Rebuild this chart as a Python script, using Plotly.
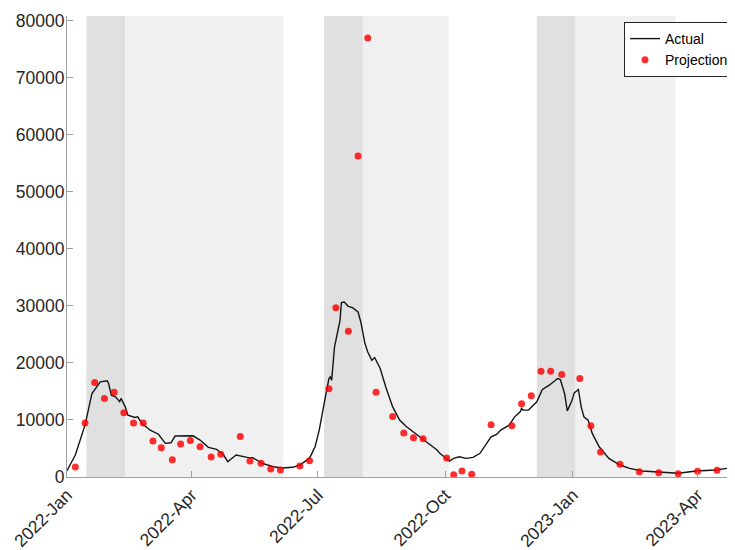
import plotly.graph_objects as go

# ---- Actual series ----
actual_dates = [
    "2022-01-01", "2022-01-07", "2022-01-14", "2022-01-19", "2022-01-25", "2022-01-30",
    "2022-01-31", "2022-02-02", "2022-02-05", "2022-02-08", "2022-02-09", "2022-02-12",
    "2022-02-14", "2022-02-19", "2022-02-21", "2022-02-24", "2022-03-02", "2022-03-08",
    "2022-03-13", "2022-03-17", "2022-03-20", "2022-03-25", "2022-04-02", "2022-04-07",
    "2022-04-13", "2022-04-19", "2022-04-24", "2022-04-27", "2022-05-03", "2022-05-11",
    "2022-05-15", "2022-05-22", "2022-05-30", "2022-06-05", "2022-06-13", "2022-06-18",
    "2022-06-25", "2022-06-29", "2022-07-02", "2022-07-06", "2022-07-09", "2022-07-10",
    "2022-07-11", "2022-07-13", "2022-07-16", "2022-07-17", "2022-07-18", "2022-07-20",
    "2022-07-23", "2022-07-26", "2022-07-30", "2022-08-01", "2022-08-04", "2022-08-06",
    "2022-08-09", "2022-08-11", "2022-08-15", "2022-08-19", "2022-08-24", "2022-08-29",
    "2022-09-03", "2022-09-09", "2022-09-15", "2022-09-20", "2022-09-25", "2022-09-27",
    "2022-10-03", "2022-10-04", "2022-10-07", "2022-10-11", "2022-10-16", "2022-10-21",
    "2022-10-26", "2022-10-29", "2022-11-03", "2022-11-07", "2022-11-10", "2022-11-16",
    "2022-11-20", "2022-11-24", "2022-11-25", "2022-11-26", "2022-11-30", "2022-12-06",
    "2022-12-10", "2022-12-15", "2022-12-21", "2022-12-23", "2022-12-26", "2022-12-28",
    "2022-12-31", "2023-01-02", "2023-01-03", "2023-01-05", "2023-01-07", "2023-01-09",
    "2023-01-12", "2023-01-15", "2023-01-20", "2023-01-27", "2023-02-04", "2023-02-11",
    "2023-02-20", "2023-03-07", "2023-03-18", "2023-03-31", "2023-04-14", "2023-04-28",
]
actual_values = [
    1100, 3850, 9100, 14650, 16700, 16860,
    16400, 14350, 14050, 13200, 13800, 12300,
    10850, 10450, 10550, 9400, 8200, 7500,
    5900, 6000, 7180, 7180, 7230, 6480,
    5200, 4850, 3850, 2680, 3850, 3450,
    3380, 2400, 1800, 1575, 1700, 2100,
    3300, 5300, 8230, 13480, 17270, 17560,
    16980, 22800, 26600, 27480, 30580, 30690,
    29930, 29700, 28940, 27190, 23400, 21930,
    20480, 20950, 19030, 15800, 12300, 9980,
    8800, 7650, 6480, 5600, 4730, 4150,
    2980, 2800, 3270, 3550, 3270, 3450,
    4150, 5300, 7050, 7470, 8230, 9100,
    10550, 11430, 12020, 11730, 11730, 13180,
    15350, 16100, 17280, 17100, 14650, 11600,
    13180, 14760, 14930, 15350, 12300, 10550,
    9980, 7650, 5300, 3270, 2100, 1520,
    1050, 820, 650, 1050, 1230, 1700,
]

# ---- Projection series ----
proj_dates = [
    "2022-01-07", "2022-01-14", "2022-01-21", "2022-01-28", "2022-02-04", "2022-02-11",
    "2022-02-18", "2022-02-25", "2022-03-04", "2022-03-10", "2022-03-18", "2022-03-24",
    "2022-03-31", "2022-04-07", "2022-04-15", "2022-04-22", "2022-05-06", "2022-05-13",
    "2022-05-21", "2022-05-28", "2022-06-04", "2022-06-18", "2022-06-25",
    "2022-07-09", "2022-07-14", "2022-07-23", "2022-07-30", "2022-08-06", "2022-08-12",
    "2022-08-24", "2022-09-01", "2022-09-08", "2022-09-15", "2022-10-02", "2022-10-07",
    "2022-10-13", "2022-10-20",
    "2022-11-03", "2022-11-18", "2022-11-25", "2022-12-02", "2022-12-09", "2022-12-16",
    "2022-12-24", "2023-01-06", "2023-01-14", "2023-01-21", "2023-02-04", "2023-02-18",
    "2023-03-04", "2023-03-18", "2023-04-01", "2023-04-15",
]
proj_values = [
    1750, 9450, 16580, 13780, 14880, 11260,
    9450, 9450, 6300, 5130, 3030, 5780,
    6420, 5300, 3500, 3970, 7120, 2800,
    2400, 1400, 1230, 1930, 2850,
    15460, 29700, 25560, 56300, 77000, 14880,
    10620, 7700, 6880, 6700, 3330, 400,
    1050, 470,
    9160, 8980, 12830, 14230, 18560, 18560,
    17980, 17270, 8980, 4380, 2220, 930,
    750, 580, 1000, 1170,
]

# ---- Shaded periods: (start, end of dark part, end of light part) ----
shade_starts = ["2022-01-15", "2022-07-05 12:00", "2022-12-06"]
shade_mids = ["2022-02-12", "2022-08-02 12:00", "2023-01-03"]
shade_ends = ["2022-06-06", "2022-10-03 12:00", "2023-03-16"]

x_range = ["2022-01-01", "2023-04-28"]
y_range = [0, 80850]
y_ticks = [0, 10000, 20000, 30000, 40000, 50000, 60000, 70000, 80000]

FONT = "Liberation Sans, Arial, Helvetica, sans-serif"
DARK = "#e0e0e0"
LIGHT = "#f0f0f0"

fig = go.Figure()

fig.add_trace(go.Scatter(
    x=actual_dates, y=actual_values, mode="lines", name="Actual",
    line=dict(color="#141414", width=1.4),
))
fig.add_trace(go.Scatter(
    x=proj_dates, y=proj_values, mode="markers", name="Projection",
    marker=dict(color="#ff0000", size=7, opacity=0.82, line=dict(width=0)),
))

shapes = []
for s, m, e in zip(shade_starts, shade_mids, shade_ends):
    shapes.append(dict(type="rect", xref="x", yref="paper", x0=s, x1=m, y0=0, y1=1,
                       fillcolor=DARK, line=dict(width=0), layer="below"))
    shapes.append(dict(type="rect", xref="x", yref="paper", x0=m, x1=e, y0=0, y1=1,
                       fillcolor=LIGHT, line=dict(width=0), layer="below"))

# page body has an 8px margin, so the figure is sized to fit the window
fig.update_layout(
    width=727, height=542,
    margin=dict(l=59, r=0, t=8, b=73, autoexpand=False),
    paper_bgcolor="white", plot_bgcolor="white",
    shapes=shapes,
    showlegend=True,
    legend=dict(
        x=0.9985, xanchor="right", y=0.987, yanchor="top",
        bgcolor="white", bordercolor="#262626", borderwidth=1,
        font=dict(family=FONT, size=14, color="#000000"),
        tracegroupgap=0, itemwidth=30,
    ),
    font=dict(family=FONT, color="#262626"),
)

fig.update_xaxes(
    type="date", range=x_range, automargin=False,
    tick0="2022-01-01", dtick="M3", tickformat="%Y-%b",
    tickangle=-45, tickfont=dict(family=FONT, size=17.5, color="#262626"),
    ticks="inside", ticklen=6, tickcolor="#a0a0a0", tickwidth=1,
    showline=True, linecolor="#a0a0a0", linewidth=1,
    showgrid=False, zeroline=False, mirror=False,
)
fig.update_yaxes(
    range=y_range, tickvals=y_ticks, tickformat="d", automargin=False,
    tickfont=dict(family=FONT, size=17.5, color="#262626"),
    ticklabelstandoff=-2,
    ticks="inside", ticklen=6, tickcolor="#a0a0a0", tickwidth=1,
    showline=True, linecolor="#a0a0a0", linewidth=1,
    showgrid=False, zeroline=False, mirror=False,
)

fig.write_html("out.html")
